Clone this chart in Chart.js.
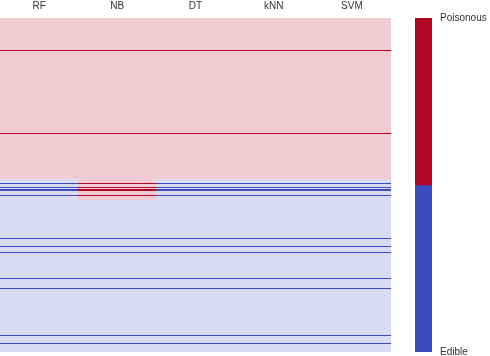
<!DOCTYPE html>
<html>
<head>
<meta charset="utf-8">
<script src="https://cdn.jsdelivr.net/npm/chart.js@4.4.0/dist/chart.umd.min.js"></script>
<style>
  body { margin: 0; background: #fff; }
  #heat { position: absolute; left: 0; top: 0; }
  #bar { position: absolute; left: 415px; top: 0; }
</style>
</head>
<body>
<canvas id="heat" width="391" height="356"></canvas>
<canvas id="bar" width="75" height="356"></canvas>
<script>
// models across the top, test samples down the side (row 0 = top)
const models = ['RF', 'NB', 'DT', 'kNN', 'SVM'];
const sampleCount = 334;
// number of rows (from the top) each model puts in the poisonous block
const poisonousCount = [161, 182, 161, 161, 161];
// highlighted samples (row index)
const markedRows = [32, 115, 165, 169, 171, 172, 177, 220, 228, 234, 260, 270, 317, 325];
// colour bar labels, bottom to top
const classLabels = ['Edible', 'Poisonous'];

const red = '#b40426', blue = '#3b4cc0';
const redLight = '#f0cdd4', blueLight = '#d8dbf2';
const font = { family: 'Liberation Sans', size: 10 };

// background blocks per model
const blocks = [], blockColors = [];
models.forEach((m, i) => {
    blocks.push({ x: m, y: [0, poisonousCount[i]] });
    blockColors.push(redLight);
    blocks.push({ x: m, y: [poisonousCount[i], sampleCount] });
    blockColors.push(blueLight);
});

// one-row lines, coloured by the block they fall in
const lines = [], lineColors = [];
models.forEach((m, i) => {
    markedRows.forEach(r => {
        lines.push({ x: m, y: [r, r + 1] });
        lineColors.push(r < poisonousCount[i] ? red : blue);
    });
});

new Chart(document.getElementById('heat'), {
    type: 'bar',
    data: {
        labels: models,
        datasets: [
            { data: lines, backgroundColor: lineColors, order: 0 },
            { data: blocks, backgroundColor: blockColors, order: 1 },
        ],
    },
    options: {
        responsive: false,
        animation: false,
        layout: { padding: { left: 0, right: 0, top: 0, bottom: 4 } },
        datasets: {
            // a hair wider than the column so neighbouring cells leave no seam
            bar: { grouped: false, barPercentage: 1.012, categoryPercentage: 1, borderWidth: 0 },
        },
        plugins: { legend: { display: false }, tooltip: { enabled: false } },
        scales: {
            x: {
                position: 'top',
                grid: { display: false, drawTicks: false },
                border: { display: false },
                ticks: { color: '#333', font: font, padding: 6, maxRotation: 0 },
                afterFit: s => { s.height = 18; },
            },
            y: { display: false, min: 0, max: sampleCount, reverse: true },
        },
    },
});

// colour bar
new Chart(document.getElementById('bar'), {
    type: 'bar',
    data: {
        labels: ['class'],
        datasets: [{
            data: [[0, 1], [1, 2]].map(v => ({ x: 'class', y: v })),
            backgroundColor: [blue, red],
        }],
    },
    options: {
        responsive: false,
        animation: false,
        layout: { padding: { left: 0, right: 0, top: 18, bottom: 4 } },
        datasets: {
            bar: { grouped: false, barPercentage: 1, categoryPercentage: 1, borderWidth: 0 },
        },
        plugins: { legend: { display: false }, tooltip: { enabled: false } },
        scales: {
            x: { display: false },
            y: {
                position: 'right',
                min: 0,
                max: classLabels.length,
                grid: { display: false, drawTicks: false },
                border: { display: false },
                afterBuildTicks: s => { s.ticks = [{ value: 0 }, { value: classLabels.length }]; },
                ticks: {
                    color: '#333',
                    font: font,
                    padding: 8,
                    callback: v => (v === 0 ? classLabels[0] : classLabels[classLabels.length - 1]),
                },
                afterFit: s => {
                    s.width = 58;
                    s.paddingTop = 0;
                    s.paddingBottom = 0;
                },
            },
        },
    },
});
</script>
</body>
</html>
